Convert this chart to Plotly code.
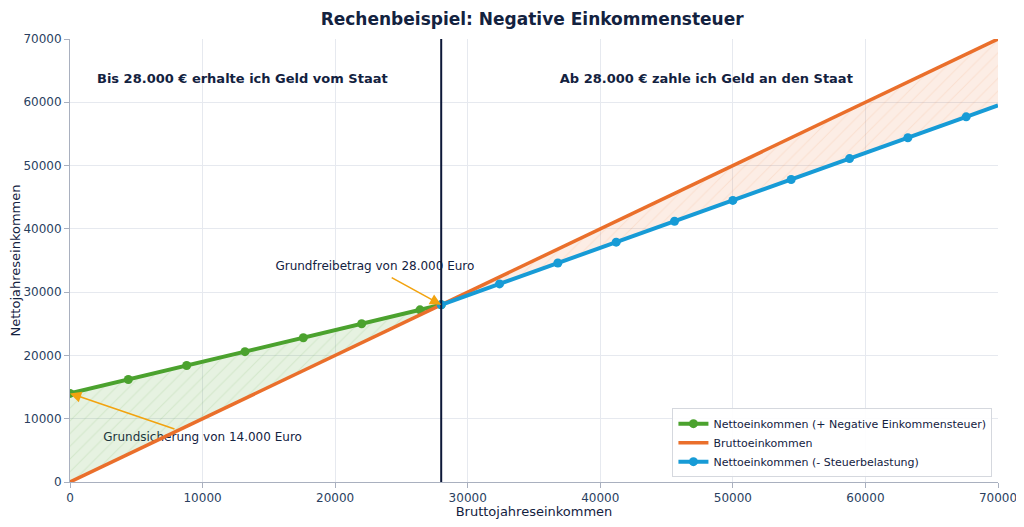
import plotly.graph_objects as go

# Bruttoeinkommen (diagonal)
brutto_x = [0, 28000, 70000]
brutto_y = [0, 28000, 70000]

# Nettoeinkommen mit negativer Einkommensteuer (bis 28.000)
gruen_x = [0, 4400, 8800, 13200, 17600, 22000, 26400, 28000]
gruen_y = [14000, 16200, 18400, 20600, 22800, 25000, 27200, 28000]

# Nettoeinkommen mit Steuerbelastung (ab 28.000)
blau_x = [28000, 32400, 36800, 41200, 45600, 50000, 54400, 58800, 63200, 67600, 70000]
blau_y = [28000, 31300, 34600, 37900, 41200, 44500, 47800, 51100, 54400, 57700, 59500]

grenze = 28000
ticks = [0, 10000, 20000, 30000, 40000, 50000, 60000, 70000]

GREEN = "#4ba22e"
ORANGE = "#ea6f2b"
BLUE = "#179bd6"
NAVY = "#0d1838"
ARROW = "#f2a30f"
TEXT = "#13223f"
FONT = "DejaVu Sans"

fig = go.Figure()

# text labels as traces so the lines are drawn over them
fig.add_trace(go.Scatter(
    x=[13000, 48000], y=[63500, 63500], mode="text",
    text=["<b>Bis 28.000 € erhalte ich Geld vom Staat</b>",
          "<b>Ab 28.000 € zahle ich Geld an den Staat</b>"],
    textfont=dict(family=FONT, size=13, color=TEXT),
    showlegend=False, hoverinfo="skip",
))
fig.add_trace(go.Scatter(
    x=[23000, 10000], y=[34000, 7000], mode="text",
    text=["Grundfreibetrag von 28.000 Euro", "Grundsicherung von 14.000 Euro"],
    textfont=dict(family=FONT, size=12, color=TEXT),
    showlegend=False, hoverinfo="skip",
))

# green fill: between brutto and green line
fig.add_trace(go.Scatter(
    x=brutto_x[:2], y=brutto_y[:2], mode="lines",
    line=dict(width=0), showlegend=False, hoverinfo="skip",
))
fig.add_trace(go.Scatter(
    x=gruen_x, y=gruen_y, mode="lines", line=dict(width=0),
    fill="tonexty", fillcolor="rgba(76,162,46,0.15)",
    fillpattern=dict(shape="/", fgcolor="rgba(76,162,46,0.24)",
                     bgcolor="rgba(76,162,46,0.14)", size=9, solidity=0.12),
    showlegend=False, hoverinfo="skip",
))

# orange fill: between blue line and brutto
fig.add_trace(go.Scatter(
    x=blau_x, y=blau_y, mode="lines",
    line=dict(width=0), showlegend=False, hoverinfo="skip",
))
fig.add_trace(go.Scatter(
    x=brutto_x[1:], y=brutto_y[1:], mode="lines", line=dict(width=0),
    fill="tonexty", fillcolor="rgba(234,111,43,0.13)",
    fillpattern=dict(shape="/", fgcolor="rgba(234,111,43,0.22)",
                     bgcolor="rgba(234,111,43,0.12)", size=9, solidity=0.12),
    showlegend=False, hoverinfo="skip",
))

fig.add_trace(go.Scatter(
    x=gruen_x, y=gruen_y, mode="lines+markers",
    name="Nettoeinkommen (+ Negative Einkommensteuer)",
    line=dict(color=GREEN, width=4), marker=dict(size=9, color=GREEN),
))
fig.add_trace(go.Scatter(
    x=brutto_x, y=brutto_y, mode="lines", name="Bruttoeinkommen",
    line=dict(color=ORANGE, width=3.5),
))
# last stretch up to 70000 has no marker
fig.add_trace(go.Scatter(
    x=blau_x[-2:], y=blau_y[-2:], mode="lines",
    line=dict(color=BLUE, width=4), showlegend=False, hoverinfo="skip",
))
fig.add_trace(go.Scatter(
    x=blau_x[:-1], y=blau_y[:-1], mode="lines+markers",
    name="Nettoeinkommen (- Steuerbelastung)",
    line=dict(color=BLUE, width=4), marker=dict(size=9, color=BLUE),
))

# vertical line at the Grundfreibetrag
fig.add_trace(go.Scatter(
    x=[grenze, grenze], y=[0, 70000], mode="lines",
    line=dict(color=NAVY, width=2), showlegend=False, hoverinfo="skip",
))

fig.add_annotation(x=grenze, y=grenze, ax=-51, ay=-28, text="",
                   showarrow=True, arrowhead=2, arrowsize=1.4, arrowwidth=1.6,
                   arrowcolor=ARROW)
fig.add_annotation(x=0, y=14000, ax=106, ay=36, text="",
                   showarrow=True, arrowhead=2, arrowsize=1.4, arrowwidth=1.6,
                   arrowcolor=ARROW)

fig.update_layout(
    template="plotly_white",
    margin=dict(l=62, r=18, t=31, b=37),
    font=dict(family=FONT, size=12, color="#2a3f5f"),
    title=dict(text="<b>Rechenbeispiel: Negative Einkommensteuer</b>",
               x=0.52, xanchor="center", y=0.978, yanchor="middle",
               font=dict(family=FONT, size=17, color=TEXT)),
    legend=dict(x=0.994, y=0.011, xanchor="right", yanchor="bottom",
                traceorder="normal",
                bgcolor="rgba(255,255,255,0.9)", bordercolor="#d5d8de",
                borderwidth=1, font=dict(family=FONT, size=11, color=TEXT)),
    showlegend=True,
)

fig.update_xaxes(
    title=dict(text="Bruttojahreseinkommen", font=dict(size=13, color=TEXT)),
    range=[0, 70000], tickvals=ticks, tickformat="d", automargin=False,
    ticklabeloverflow="allow",
    showline=True, linecolor="#a9b0bf", ticks="outside", ticklen=5,
    tickcolor="#a9b0bf", gridcolor="#e6e9ef", zeroline=False,
)
fig.update_yaxes(
    title=dict(text="Nettojahreseinkommen", font=dict(size=13, color=TEXT)),
    range=[0, 70000], tickvals=ticks, tickformat="d", automargin=False,
    ticklabeloverflow="allow",
    showline=True, linecolor="#a9b0bf", ticks="outside", ticklen=5,
    tickcolor="#a9b0bf", gridcolor="#e6e9ef", zeroline=False,
)

fig.write_html("out.html")
